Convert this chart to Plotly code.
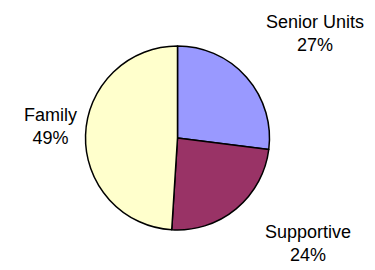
import plotly.graph_objects as go

labels = ["Senior Units", "Supportive", "Family"]
values = [27, 24, 49]
colors = ["#9999FF", "#993366", "#FFFFCC"]

W, H = 375, 270
cx, cy, r = 177.5, 138, 92

total = sum(values)
texts = [f"{l}<br>{round(v / total * 100)}%" for l, v in zip(labels, values)]
label_pos = [(315, 34), (308, 243), (50, 126)]

fig = go.Figure(go.Pie(
    labels=labels, values=values, sort=False, direction="clockwise", rotation=0,
    marker=dict(colors=colors, line=dict(color="black", width=1.5)),
    textinfo="none", hoverinfo="label+percent", showlegend=False,
    domain=dict(x=[(cx - r) / W, (cx + r) / W], y=[(H - cy - r) / H, (H - cy + r) / H]),
))
for t, (x, y) in zip(texts, label_pos):
    fig.add_annotation(text=t, x=x / W, y=1 - y / H, xref="paper", yref="paper",
                       showarrow=False, xanchor="center", yanchor="middle",
                       font=dict(family="Liberation Sans, Arial", size=18, color="black"))
fig.update_layout(width=W, height=H, margin=dict(l=0, r=0, t=0, b=0),
                  paper_bgcolor="white", plot_bgcolor="white")
fig.write_html("out.html", config={"displayModeBar": False},
               post_script="document.body.style.margin='0';document.body.style.overflow='hidden';")
